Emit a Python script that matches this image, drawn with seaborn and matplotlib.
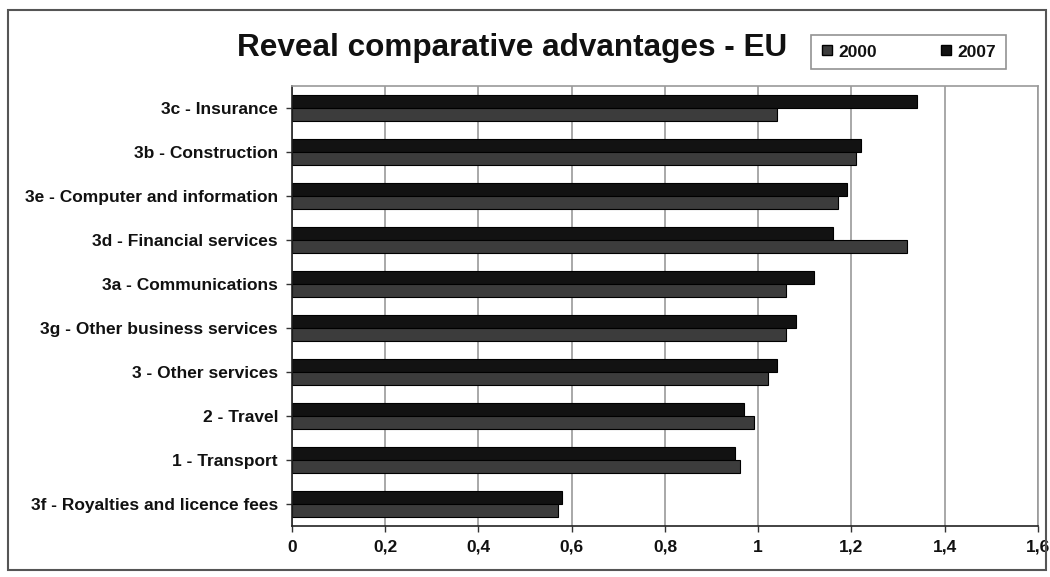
import matplotlib
matplotlib.use("Agg")
import matplotlib.pyplot as plt
from matplotlib.lines import Line2D
from matplotlib.patches import Rectangle
import seaborn as sns
import pandas as pd

categories = [
    "3c - Insurance",
    "3b - Construction",
    "3e - Computer and information",
    "3d - Financial services",
    "3a - Communications",
    "3g - Other business services",
    "3 - Other services",
    "2 - Travel",
    "1 - Transport",
    "3f - Royalties and licence fees",
]
values_2000 = [1.04, 1.21, 1.17, 1.32, 1.06, 1.06, 1.02, 0.99, 0.96, 0.57]
values_2007 = [1.34, 1.22, 1.19, 1.16, 1.12, 1.08, 1.04, 0.97, 0.95, 0.58]
years = ["2000", "2007"]
x_ticks = [0, 0.2, 0.4, 0.6, 0.8, 1.0, 1.2, 1.4, 1.6]
x_tick_labels = ["0", "0,2", "0,4", "0,6", "0,8", "1", "1,2", "1,4", "1,6"]

colors = {"2000": "#3c3c3c", "2007": "#121212"}

df = pd.DataFrame({
    "category": categories * 2,
    "value": values_2000 + values_2007,
    "year": [years[0]] * len(categories) + [years[1]] * len(categories),
})

sns.set_theme(style="white")
plt.rcParams["font.family"] = ["Liberation Sans", "DejaVu Sans"]
plt.rcParams["text.color"] = "#111111"
plt.rcParams["xtick.color"] = "#111111"
plt.rcParams["ytick.color"] = "#111111"

fig = plt.figure(figsize=(10.5, 5.77), dpi=100)
ax = fig.add_axes([0.278, 0.0884, 0.7106, 0.7626])

sns.barplot(
    data=df, y="category", x="value", hue="year",
    hue_order=["2007", "2000"], order=categories,
    palette=colors, orient="h", width=0.59, gap=0,
    edgecolor="#000000", linewidth=0.8, legend=False, ax=ax,
)

ax.set_xlim(0, 1.6)
ax.set_xticks(x_ticks)
ax.set_xticklabels(x_tick_labels, fontsize=12.5, fontweight="bold")
ax.set_yticklabels(categories, fontsize=12.5, fontweight="bold")
ax.set_xlabel("")
ax.set_ylabel("")
ax.xaxis.grid(True, color="#9a9a9a", linewidth=1.2)
ax.set_axisbelow(True)
ax.tick_params(axis="both", which="major", length=4, width=1, color="#333333",
               direction="out", left=True, bottom=True, pad=6)
for side in ("left", "bottom"):
    ax.spines[side].set_color("#222222")
    ax.spines[side].set_linewidth(1.2)
for side in ("top", "right"):
    ax.spines[side].set_color("#9a9a9a")
    ax.spines[side].set_linewidth(1.2)

fig.text(0.488, 0.917, "Reveal comparative advantages - EU",
         ha="center", va="center", fontsize=22.7, fontweight="bold")

handles = [
    Line2D([], [], marker="s", linestyle="none", markersize=7.5,
           markerfacecolor=colors[y], markeredgecolor="#000000")
    for y in years
]
leg = fig.legend(handles, years, loc="center", bbox_to_anchor=(0.865, 0.910),
                 ncol=2, frameon=True, fancybox=False, columnspacing=3.6,
                 handletextpad=0.25, handlelength=0.8, borderpad=0.55,
                 borderaxespad=0, prop={"weight": "bold", "size": 12.5})
leg.get_frame().set_edgecolor("#777777")
leg.get_frame().set_linewidth(1.2)

fig.patches.append(Rectangle((0.008, 0.012), 0.988, 0.97, transform=fig.transFigure,
                             fill=False, edgecolor="#555555", linewidth=1.5))

fig.savefig("out.png", dpi=100)
